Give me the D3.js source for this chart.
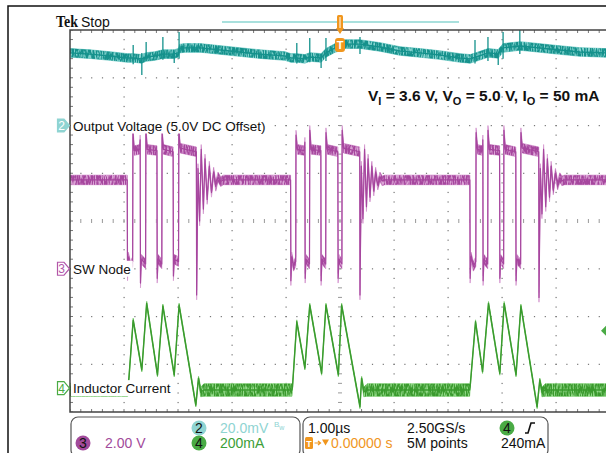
<!DOCTYPE html>
<html><head><meta charset="utf-8">
<script src="https://cdn.jsdelivr.net/npm/d3@7"></script>
<style>
html,body{margin:0;padding:0;background:#fff;}
svg{display:block;font-family:"Liberation Sans",Arial,sans-serif;}
</style></head><body>
<svg id="c" width="606" height="453"></svg>
<script>
// ---------- graticule ----------
const timeDivs = [-5,-4,-3,-2,-1,0,1,2,3,4,5];      // µs (1.00 µs/div)
const vertDivs = [-4,-3,-2,-1,0,1,2,3,4];           // divisions

// ---------- channel settings ----------
const ch2Pos = 2,    ch2Scale = 20;    // mV/div (5.0 V DC offset)
const ch3Pos = -1,   ch3Scale = 2;     // V/div
const ch4Pos = -3.5, ch4Scale = 200;   // mA/div
const trigLevel = 240;                 // mA

// ---------- CH2 output voltage ripple (mV above 5.0 V) ----------
const ch2T = [-5.00,-4.63,-4.26,-3.94,-3.83,-3.67,-3.59,-3.43,-3.28,-3.07,-2.99,-2.97,-2.87,-2.59,-2.04,-1.48,-1.02,-0.91,-0.80,-0.65,-0.56,-0.35,-0.26,-0.09,0.04,0.09,0.37,0.74,1.11,1.48,1.85,2.22,2.41,2.52,2.74,2.93,3.02,3.33,3.52,4.07,4.44,4.93];
const ch2V = [30.4,29.9,29.1,28.3,28.3,27.9,28.7,29.1,29.9,29.9,30.5,32.2,32.5,32.5,31.2,29.9,29.1,28.3,28.3,27.9,28.7,28.3,30.4,32.5,33.3,34.1,34.1,32.9,31.2,30.4,29.5,28.3,27.9,28.7,30.4,30.0,32.5,33.3,32.9,31.6,30.8,30.4];
const ch2Noise = 1.8;
const ch2SpikeT  = [-3.83,-3.67,-3.59,-3.28,-3.07,-2.98,-0.80,-0.56,-0.35,-0.26,0.37,2.50,2.74,2.93,3.02,3.33];
const ch2SpikeHi = [33.7,30.4,35.0,37.1,31.0,39.2,34.6,36.6,30.0,36.6,37.1,35.8,37.1,30.0,39.2,40.0];
const ch2SpikeLo = [25.7,21.2,27.0,27.5,26.2,28.0,26.0,26.5,24.1,27.0,30.0,26.0,27.0,25.3,28.0,30.0];

// ---------- CH3 switch node (V) ----------
const ch3T = [-5.00,-3.94,-3.935,-3.92,-3.88,-3.84,-3.835,-3.81,-3.71,-3.70,-3.695,-3.68,-3.60,-3.595,-3.57,-3.39,-3.385,-3.37,-3.30,-3.295,-3.27,-3.09,-3.085,-3.07,-2.99,-2.985,-2.96,-2.66,-2.655,-2.63,-2.60,-2.57,-2.53,-2.50,-2.46,-2.42,-2.38,-2.34,-2.30,-2.26,-2.21,-2.16,
  -0.915,-0.91,-0.895,-0.86,-0.82,-0.815,-0.79,-0.66,-0.65,-0.645,-0.63,-0.565,-0.56,-0.535,-0.355,-0.35,-0.335,-0.265,-0.26,-0.235,-0.04,-0.035,-0.02,0.035,0.04,0.065,0.365,0.37,0.395,0.425,0.455,0.49,0.52,0.555,0.59,0.625,0.66,0.70,0.74,0.78,0.83,
  2.405,2.41,2.425,2.47,2.515,2.52,2.545,2.64,2.645,2.65,2.665,2.735,2.74,2.765,2.955,2.96,2.975,3.03,3.035,3.06,3.255,3.26,3.275,3.345,3.35,3.375,3.68,3.685,3.71,3.74,3.77,3.81,3.84,3.88,3.91,3.95,3.99,4.03,4.07,4.11,4.16,5.00];
const ch3V = [3.72,3.72,-0.3,0.5,0.1,0.3,5.7,4.95,5.0,5.4,-0.6,0.4,0.2,5.8,5.0,4.95,-0.4,0.4,0.2,5.7,5.0,4.9,-0.3,0.4,0.3,5.8,5.05,4.9,-1.1,4.2,2.0,5.0,2.5,4.6,2.9,4.3,3.2,4.05,3.45,3.85,3.65,3.72,
  3.72,-0.5,0.5,0.1,0.3,5.6,5.0,4.95,5.3,-0.4,0.4,0.2,5.8,5.0,4.95,-0.5,0.4,0.2,5.7,5.0,4.9,-0.4,0.4,0.2,5.8,5.05,4.9,-1.1,4.3,2.1,5.0,2.6,4.6,3.0,4.3,3.25,4.05,3.5,3.85,3.68,3.72,
  3.72,-0.4,0.5,0.1,0.3,5.7,5.0,4.95,5.4,-0.5,0.4,0.2,5.8,5.0,4.95,-0.4,0.4,0.2,5.8,5.0,4.9,-0.5,0.4,0.2,5.7,5.05,4.9,-1.2,4.2,2.3,5.0,2.6,4.6,3.0,4.3,3.3,4.0,3.5,3.82,3.68,3.72,3.72];
const ch3Noise = 0.2;

// ---------- CH4 inductor current (mA) ----------
const ch4T = [-5.00,-3.93,-3.91,-3.83,-3.67,-3.58,-3.38,-3.28,-3.07,-2.98,-2.67,-2.62,-2.58,-2.52,
  -0.89,-0.88,-0.80,-0.65,-0.56,-0.34,-0.26,-0.03,0.03,0.37,0.40,0.44,0.50,
  2.40,2.41,2.51,2.64,2.75,2.96,3.04,3.26,3.35,3.65,3.70,3.74,3.80,5.00];
const ch4I = [-8,-8,38,285,76,356,55,344,55,348,-71,42,-16,-8,
  -8,5,278,84,348,62,348,55,348,-78,42,-16,-8,
  -8,6,278,69,355,62,355,55,344,-78,34,-16,-8,-8];
const ch4Noise = [26,26,8,8,8,8,8,8,8,8,8,8,20,26,
  26,8,8,8,8,8,8,8,8,8,8,20,26,
  26,8,8,8,8,8,8,8,8,8,8,20,26,26];

// ---------- scales ----------
const svg = d3.select('#c');
const x = d3.scaleLinear().domain([-5,5]).range([70,610]);
const yDiv = d3.scaleLinear().domain([-4,4]).range([412,30]);
const chScale = (pos, per) => d3.scaleLinear().domain([(-4-pos)*per,(4-pos)*per]).range([412,30]);
const y2 = chScale(ch2Pos, ch2Scale), y3 = chScale(ch3Pos, ch3Scale), y4 = chScale(ch4Pos, ch4Scale);

const defs = svg.append('defs');
defs.append('clipPath').attr('id','plot').append('rect').attr('x',70).attr('y',30).attr('width',540).attr('height',382);
const f = defs.append('filter').attr('id','grain').attr('filterUnits','userSpaceOnUse')
  .attr('x',0).attr('y',0).attr('width',606).attr('height',453);
f.append('feTurbulence').attr('type','fractalNoise').attr('baseFrequency','0.9 0.15').attr('numOctaves',2).attr('seed',5).attr('result','n');
f.append('feColorMatrix').attr('in','n').attr('type','matrix')
  .attr('values','0 0 0 0 0  0 0 0 0 0  0 0 0 0 0  3.6 0 0 0 -1.05').attr('result','a');
f.append('feComposite').attr('in','SourceGraphic').attr('in2','a').attr('operator','in');

// ---------- frame ----------
svg.append('path').attr('d','M8,453 V6 H606').attr('fill','none').attr('stroke','#111').attr('stroke-width',1.5);

// ---------- graticule ----------
const grid = svg.append('g').attr('clip-path','url(#plot)');
const minors = (arr) => { const out=[]; for (let i=0;i<arr.length-1;i++) for (let k=0;k<5;k++) out.push(arr[i]+k*(arr[i+1]-arr[i])/5); out.push(arr[arr.length-1]); return out; };
const tMin = minors(timeDivs), dMin = minors(vertDivs);
const dots = [];
timeDivs.slice(1,-1).forEach(t => { if (t!==0) dMin.forEach(d => dots.push([x(t), yDiv(d)])); });
vertDivs.slice(1,-1).forEach(d => { if (d!==0) tMin.forEach(t => dots.push([x(t), yDiv(d)])); });
grid.selectAll('rect.dot').data(dots).enter().append('rect').attr('class','dot')
  .attr('x',d=>d[0]-0.5).attr('y',d=>d[1]-0.5).attr('width',1.2).attr('height',1.2).attr('fill','#777');
// center line ticks
grid.selectAll('line.cy').data(dMin).enter().append('line')
  .attr('x1',x(0)-2).attr('x2',x(0)+2).attr('y1',d=>yDiv(d)).attr('y2',d=>yDiv(d)).attr('stroke','#999').attr('stroke-width',1);
grid.selectAll('line.cx').data(tMin).enter().append('line')
  .attr('y1',yDiv(0)-2).attr('y2',yDiv(0)+2).attr('x1',d=>x(d)).attr('x2',d=>x(d)).attr('stroke','#999').attr('stroke-width',1);
// edge ticks
grid.selectAll('line.tt').data(tMin).enter().append('line')
  .attr('x1',d=>x(d)).attr('x2',d=>x(d)).attr('y1',30).attr('y2',33).attr('stroke','#777');
grid.selectAll('line.tb').data(tMin).enter().append('line')
  .attr('x1',d=>x(d)).attr('x2',d=>x(d)).attr('y1',409).attr('y2',412).attr('stroke','#777');
grid.selectAll('line.tl').data(dMin).enter().append('line')
  .attr('x1',70).attr('x2',73).attr('y1',d=>yDiv(d)).attr('y2',d=>yDiv(d)).attr('stroke','#777');

// ---------- traces ----------
const traces = svg.append('g').attr('clip-path','url(#plot)');
function drawTrace(T, V, N, yS, light, dark, lw) {
  const pts = T.map((t,i)=>({t, v:V[i], n: Array.isArray(N)?N[i]:N}));
  const area = d3.area().x(d=>x(d.t)).y0(d=>yS(d.v-d.n)).y1(d=>yS(d.v+d.n));
  const line = d3.line().x(d=>x(d.t)).y(d=>yS(d.v));
  const g = traces.append('g');
  g.append('path').attr('d',area(pts)).attr('fill',light).attr('stroke',light).attr('stroke-width',1);
  g.append('path').attr('d',area(pts)).attr('fill',dark).attr('filter','url(#grain)');
  g.append('path').attr('d',line(pts)).attr('fill','none').attr('stroke',dark).attr('stroke-width',lw).attr('stroke-linejoin','round');
  return g;
}
const g2 = drawTrace(ch2T, ch2V, ch2Noise, y2, '#86d3cf', '#14918c', 1.4);
g2.selectAll('line').data(ch2SpikeT).enter().append('line')
  .attr('x1',d=>x(d)).attr('x2',d=>x(d)).attr('y1',(d,i)=>y2(ch2SpikeHi[i])).attr('y2',(d,i)=>y2(ch2SpikeLo[i]))
  .attr('stroke','#14918c').attr('stroke-width',1.3);
drawTrace(ch3T, ch3V, ch3Noise, y3, '#dba5d6', '#a6469e', 1.2);
drawTrace(ch4T, ch4I, ch4Noise, y4, '#92d888', '#3a9a2e', 1.4);

// plot border
svg.append('path').attr('d',`M606,${yDiv(4)} H${x(-5)} V${yDiv(-4)} H606`).attr('fill','none').attr('stroke','#444').attr('stroke-width',1.5);

// ---------- channel markers & labels ----------
const chans = [
  {n:'2', y:yDiv(ch2Pos), label:'Output Voltage (5.0V DC Offset)', fill:'#8fd4d2', stroke:'#8fd4d2', tc:'#fff'},
  {n:'3', y:yDiv(ch3Pos), label:'SW Node', fill:'#fff', stroke:'#b257aa', tc:'#b257aa'},
  {n:'4', y:yDiv(ch4Pos), label:'Inductor Current', fill:'#fff', stroke:'#4aab45', tc:'#4aab45'}
];
chans.forEach(c => {
  const g = svg.append('g');
  const t = g.append('text').attr('x',73).attr('y',c.y+5).attr('font-size',13.5).attr('fill','#111').text(c.label);
  const bb = t.node().getBBox();
  g.insert('rect','text').attr('x',71).attr('y',c.y-8).attr('width',bb.width+4).attr('height',16).attr('fill','#fff');
  g.append('path').attr('d',`M57.5,${c.y-6.5} H64 L69.5,${c.y} L64,${c.y+6.5} H57.5 Z`).attr('fill',c.fill).attr('stroke',c.stroke).attr('stroke-width',1.2);
  g.append('text').attr('x',61.5).attr('y',c.y+4.5).attr('text-anchor','middle').attr('font-size',12).attr('fill',c.tc).text(c.n);
});
// trigger level marker (right edge)
const ty = y4(trigLevel);
svg.append('path').attr('d',`M601,${ty} L606,${ty-5} L606,${ty+5} Z`).attr('fill','#4aab45');

// ---------- header ----------
svg.append('text').attr('x',56).attr('y',27).attr('font-family','"Liberation Serif",serif').attr('font-weight','bold')
  .attr('font-size',17).attr('textLength',22).attr('lengthAdjust','spacingAndGlyphs').attr('fill','#111').text('Tek');
svg.append('text').attr('x',81).attr('y',27).attr('font-size',14).attr('fill','#111').text('Stop');
svg.append('line').attr('x1',222).attr('x2',459).attr('y1',22).attr('y2',22).attr('stroke','#a9e0dd').attr('stroke-width',2);
// trigger position marker
const tx = x(0);
svg.append('rect').attr('x',tx-3).attr('y',15).attr('width',6).attr('height',14).attr('rx',1.5).attr('fill','#f0961e');
svg.append('line').attr('x1',tx).attr('x2',tx).attr('y1',17).attr('y2',28).attr('stroke','#fff').attr('stroke-width',1);
svg.append('path').attr('d',`M${tx-4},28 L${tx+4},28 L${tx},34 Z`).attr('fill','#f0961e');
svg.append('rect').attr('x',tx-5).attr('y',38).attr('width',10).attr('height',14).attr('rx',3).attr('fill','#f0961e');
svg.append('text').attr('x',tx).attr('y',49).attr('text-anchor','middle').attr('font-size',11).attr('font-weight','bold').attr('fill','#fff').text('T');

// conditions text
const cond = svg.append('text').attr('x',368).attr('y',101).attr('font-size',15.5).attr('font-weight','bold').attr('fill','#111');
[['V',0],['I',1],[' = 3.6 V, V',0],['O',1],[' = 5.0 V, I',0],['O',1],[' = 50 mA',0]].forEach(([s,sub],i,arr)=>{
  const prevSub = i>0 ? arr[i-1][1] : 0;
  cond.append('tspan').attr('dy', sub? 4 : (prevSub? -4:0)).attr('font-size', sub?11:15.5).text(s);
});

// ---------- bottom readouts ----------
const foot = svg.append('g').attr('font-size',14);
foot.append('rect').attr('x',71).attr('y',417).attr('width',229).attr('height',40).attr('rx',7).attr('fill','none').attr('stroke','#555').attr('stroke-width',1.2);
foot.append('rect').attr('x',303).attr('y',417).attr('width',245).attr('height',40).attr('rx',7).attr('fill','none').attr('stroke','#555').attr('stroke-width',1.2);
function badge(cx, cy, fill, n) {
  foot.append('circle').attr('cx',cx).attr('cy',cy).attr('r',7.5).attr('fill',fill);
  foot.append('text').attr('x',cx).attr('y',cy+5).attr('text-anchor','middle').attr('font-size',14).attr('fill','#111').text(n);
}
badge(199,428,'#8fd4d2','2');
foot.append('text').attr('x',220).attr('y',433).attr('fill','#8fd4d2').text('20.0mV');
const bw = foot.append('text').attr('x',274).attr('y',427).attr('font-size',8).attr('fill','#8fd4d2');
bw.append('tspan').text('B'); bw.append('tspan').attr('dy',3).attr('font-size',7).text('w');
badge(83,443,'#a24a9b','3');
foot.append('text').attr('x',105).attr('y',448).attr('fill','#a24a9b').text('2.00 V');
badge(199,443,'#4aab45','4');
foot.append('text').attr('x',220).attr('y',448).attr('fill','#3c9e38').text('200mA');

foot.append('text').attr('x',308).attr('y',433).attr('fill','#111').text('1.00µs');
foot.append('text').attr('x',407).attr('y',433).attr('fill','#111').text('2.50GS/s');
badge(507,428,'#4aab45','4');
foot.append('path').attr('d','M525,433 H528 L531,423 H535').attr('fill','none').attr('stroke','#111').attr('stroke-width',1.6);
foot.append('rect').attr('x',305).attr('y',437).attr('width',8).attr('height',12).attr('rx',1.5).attr('fill','#f0961e');
foot.append('text').attr('x',309).attr('y',447).attr('text-anchor','middle').attr('font-size',9).attr('font-weight','bold').attr('fill','#fff').text('T');
// delay arrow and trigger-point triangle
foot.append('path').attr('d','M314.5,443 H320 M318,441 L320.5,443 L318,445').attr('fill','none').attr('stroke','#f0961e').attr('stroke-width',1.2);
foot.append('path').attr('d','M322,439.5 H329 L325.5,445.5 Z').attr('fill','#f0961e');
foot.append('text').attr('x',331).attr('y',448).attr('fill','#f0961e').text('0.00000 s');
foot.append('text').attr('x',407).attr('y',448).attr('fill','#111').text('5M points');
foot.append('text').attr('x',501).attr('y',448).attr('fill','#111').text('240mA');
</script>
</body></html>
